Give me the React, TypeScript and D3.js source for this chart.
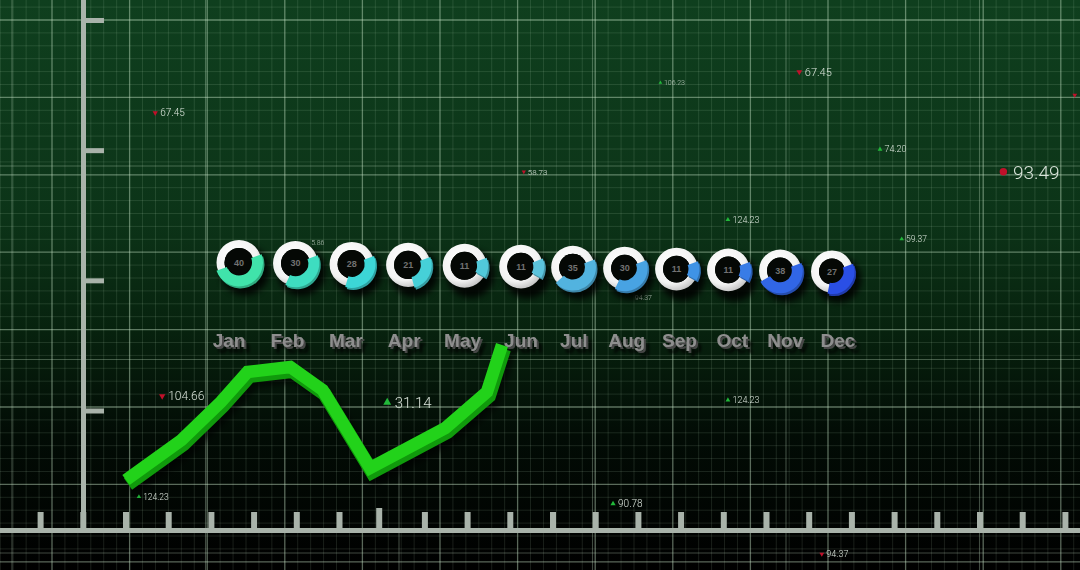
import * as d3 from "d3"

const months = ["Jan", "Feb", "Mar", "Apr", "May", "Jun", "Jul", "Aug", "Sep", "Oct", "Nov", "Dec"]
const donutValues = [40, 30, 28, 21, 11, 11, 35, 30, 11, 11, 38, 27]

// trend ribbon: horizontal position in weeks, vertical value
const trendWeek = [0, 2.4, 4.1, 5.25, 7.1, 8.5, 10.55, 13.8, 15.6, 16.25]
const trendValue = [20, 40, 59, 74, 76.5, 65, 26, 46, 64, 87.5]

// floating readouts, placed in grid units
const labelText = ["67.45", "5.86", "58.73", "106.23", "67.45", "74.20", "93.49", "124.23", "59.37", "94.37", "104.66", "31.14", "124.23", "124.23", "90.78", "94.37", "105.12"]
const labelCol = [1.33, 3.34, 6.08, 7.84, 9.63, 10.67, 12.26, 8.71, 10.95, 7.51, 1.42, 4.32, 8.71, 1.12, 7.23, 9.92, 13.18]
const labelRow = [1.2, 2.88, 1.96, 0.81, 0.67, 1.67, 1.96, 2.58, 2.83, 3.58, 4.86, 4.94, 4.91, 6.16, 6.25, 6.9, 0.97]
const labelSize = [10, 7, 8, 7, 11, 9, 19, 9, 8.5, 7, 12, 15, 9, 8.5, 10, 9, 9]
const labelMark = ["down", "none", "down", "up", "down", "up", "dot", "up", "up", "none", "down", "up", "up", "up", "up", "down", "down"]

const W = 1080
const H = 570

export default function App() {
  // main grid (77.5px cells, 6 subdivisions) and a wider secondary grid
  const gx = d3.scaleLinear().domain([0, 1]).range([52, 129.6])
  const gy = d3.scaleLinear().domain([0, 1]).range([20, 97.4])
  const sx = d3.scaleLinear().domain([0, 1]).range([12, 205.5])
  const sy = d3.scaleLinear().domain([0, 1]).range([166, 359.5])

  const minorX = d3.range(-6, 14 * 6).filter((k) => k % 6 !== 0).map((k) => gx(k / 6))
  const minorY = d3.range(-6, 8 * 6).filter((k) => k % 6 !== 0).map((k) => gy(k / 6))
  const majorX = d3.range(0, 14).map((k) => gx(k))
  const majorY = d3.range(0, 8).map((k) => gy(k))
  const secX = d3.range(0, 6).map((k) => sx(k))
  const secY = d3.range(-1, 3).map((k) => sy(k))

  // axes
  const leftTicks = d3.scaleLinear().domain([0, 3]).range([20.5, 411])
  const bottomTicks = d3.scaleLinear().domain([0, 24]).range([40.6, 1065.4])

  // months
  const labelX = d3.scaleLinear().domain([0, 5, 11]).range([229, 521, 838])
  const donutX = d3.scaleLinear().domain([0, 5, 11]).range([239, 521, 832])
  const donutY = d3.scaleLinear().domain([0, 11]).range([262.5, 271.5])
  const donutR = d3.scaleLinear().domain([0, 11]).range([22.5, 21])
  const donutColor = d3
    .scaleLinear<string>()
    .domain([0, 2, 5, 8, 11])
    .range(["#40e3aa", "#3cd6d6", "#5bc3dc", "#3f93e6", "#2a4fe6"])
  const arcSpan = d3.scaleLinear().domain([0, 100]).range([0, Math.PI * 2.5])
  const arcStart = (70 * Math.PI) / 180

  // trend line
  const tx = d3.scaleLinear().domain([0, 16.25]).range([126, 502])
  const ty = d3.scaleLinear().domain([0, 100]).range([520, 320])
  const trendPts = trendWeek.map((w, i) => [tx(w), ty(trendValue[i])] as [number, number])
  const trendPath = d3.line().curve(d3.curveLinear)(trendPts) || ""

  const fullRing = (r: number) =>
    d3.arc()({ innerRadius: r - 8, outerRadius: r, startAngle: 0, endAngle: Math.PI * 2 }) || ""
  const valueArc = (r: number, v: number) =>
    d3.arc()({
      innerRadius: r - 9.5,
      outerRadius: r + 1.5,
      startAngle: arcStart,
      endAngle: arcStart + arcSpan(v),
    }) || ""

  const tri = d3.symbol().type(d3.symbolTriangle)
  const dot = d3.symbol().type(d3.symbolCircle)

  return (
    <svg width={W} height={H} style={{ position: "fixed", left: 0, top: 0, display: "block" }}>
      <defs>
        <linearGradient id="bg" x1="0" y1="0" x2="0" y2="1">
          <stop offset="0" stopColor="#0f3f1e" />
          <stop offset="0.38" stopColor="#0c3418" />
          <stop offset="0.58" stopColor="#07220e" />
          <stop offset="0.76" stopColor="#020c05" />
          <stop offset="1" stopColor="#000000" />
        </linearGradient>
        <radialGradient id="ring" cx="0.4" cy="0.35" r="0.7">
          <stop offset="0" stopColor="#ffffff" />
          <stop offset="0.7" stopColor="#f2f2f2" />
          <stop offset="1" stopColor="#bdbdbd" />
        </radialGradient>
        <filter id="soft" x="-50%" y="-50%" width="200%" height="200%">
          <feGaussianBlur stdDeviation="3" />
        </filter>
        <filter id="extrude" x="-30%" y="-40%" width="180%" height="220%">
          <feOffset in="SourceAlpha" dx="5" dy="6" result="o1" />
          <feGaussianBlur in="o1" stdDeviation="1.8" result="b1" />
          <feFlood floodColor="#000000" floodOpacity="0.9" result="f1" />
          <feComposite in="f1" in2="b1" operator="in" result="sh" />
          <feOffset in="SourceAlpha" dx="1.6" dy="1.8" result="o2" />
          <feFlood floodColor="#474747" result="f2" />
          <feComposite in="f2" in2="o2" operator="in" result="ex" />
          <feMerge>
            <feMergeNode in="sh" />
            <feMergeNode in="ex" />
            <feMergeNode in="SourceGraphic" />
          </feMerge>
        </filter>
      </defs>

      <rect x={0} y={0} width={W} height={H} fill="url(#bg)" />

      {/* grid */}
      <g stroke="#c8e4c8" fill="none">
        {minorX.map((x, i) => (
          <line key={"mx" + i} x1={x} x2={x} y1={0} y2={H} strokeOpacity={0.13} />
        ))}
        {minorY.map((y, i) => (
          <line key={"my" + i} x1={0} x2={W} y1={y} y2={y} strokeOpacity={0.13} />
        ))}
        {secX.map((x, i) => (
          <line key={"sx" + i} x1={x} x2={x} y1={0} y2={H} strokeOpacity={0.32} strokeWidth={1.1} />
        ))}
        {secY.map((y, i) => (
          <line key={"sy" + i} x1={0} x2={W} y1={y} y2={y} strokeOpacity={0.32} strokeWidth={1.1} />
        ))}
        {majorX.map((x, i) => (
          <line key={"Mx" + i} x1={x} x2={x} y1={0} y2={H} strokeOpacity={0.45} strokeWidth={1.3} />
        ))}
        {majorY.map((y, i) => (
          <line key={"My" + i} x1={0} x2={W} y1={y} y2={y} strokeOpacity={0.45} strokeWidth={1.3} />
        ))}
      </g>

      {/* axes */}
      <g fill="#a9b3aa">
        <rect x={81} y={0} width={5} height={530} />
        {d3.range(0, 4).map((k) => (
          <rect key={"lt" + k} x={86} y={leftTicks(k) - 2.5} width={18} height={5} />
        ))}
        <rect x={0} y={528} width={W} height={5} />
        {d3.range(0, 25).map((k) => {
          const tall = k === 8
          return (
            <rect
              key={"bt" + k}
              x={bottomTicks(k) - 3 - (tall ? 3 : 0)}
              y={tall ? 508 : 512}
              width={6}
              height={tall ? 21 : 17}
            />
          )
        })}
      </g>

      {/* floating readouts */}
      <g fontFamily="Roboto, 'Liberation Sans', sans-serif" fontWeight={300} fill="#e3ece3">
        {labelText.map((t, i) => {
          const x = gx(labelCol[i])
          const y = gy(labelRow[i])
          const s = labelSize[i]
          const m = labelMark[i]
          const area = s * s * 0.12
          return (
            <g key={"lb" + i}>
              {m === "up" && (
                <path d={tri.size(area)() || ""} transform={`translate(${x},${y})`} fill="#22b83a" />
              )}
              {m === "down" && (
                <path d={tri.size(area)() || ""} transform={`translate(${x},${y}) rotate(180)`} fill="#c0102a" />
              )}
              {m === "dot" && <path d={dot.size(area)() || ""} transform={`translate(${x},${y})`} fill="#c0102a" />}
              <text
                x={m === "none" ? x : x + s * 0.5}
                y={y}
                dy="0.36em"
                fontSize={s}
                opacity={s < 8 ? 0.75 : 0.95}
              >
                {t}
              </text>
            </g>
          )
        })}
      </g>

      {/* donuts */}
      {months.map((m, i) => {
        const cx = donutX(i)
        const cy = donutY(i)
        const r = donutR(i)
        return (
          <g key={"d" + m} transform={`translate(${cx},${cy})`}>
            <circle cx={6} cy={8} r={r + 2} fill="#000" opacity={0.85} filter="url(#soft)" />
            <path d={fullRing(r)} fill="url(#ring)" />
            <circle r={r - 8} fill="#050805" />
            <path
              d={valueArc(r, donutValues[i])}
              transform="translate(1.5,2)"
              fill={d3.color(donutColor(i))!.darker(0.8).toString()}
            />
            <path d={valueArc(r, donutValues[i])} fill={donutColor(i)} />
            <text
              dy="0.35em"
              textAnchor="middle"
              fontFamily="'Liberation Sans', Arial, sans-serif"
              fontWeight={700}
              fontSize={9}
              fill="#727272"
            >
              {donutValues[i]}
            </text>
          </g>
        )
      })}

      {/* month labels */}
      <g
        fontFamily="'Liberation Sans', Arial, sans-serif"
        fontWeight={700}
        fontSize={19}
        textAnchor="middle"
        fill="#8e8e8e"
        filter="url(#extrude)"
      >
        {months.map((m, i) => (
          <text key={"m" + m} x={labelX(i)} y={347}>
            {m}
          </text>
        ))}
      </g>

      {/* trend ribbon */}
      <g fill="none" strokeLinejoin="miter" strokeLinecap="butt">
        <path
          d={trendPath}
          stroke="#000"
          strokeOpacity={0.6}
          strokeWidth={14}
          transform="translate(6,9)"
          filter="url(#soft)"
        />
        <path d={trendPath} stroke="#109a0c" strokeWidth={14} transform="translate(2,4)" />
        <path d={trendPath} stroke="#22d21a" strokeWidth={12.5} />
      </g>
    </svg>
  )
}
